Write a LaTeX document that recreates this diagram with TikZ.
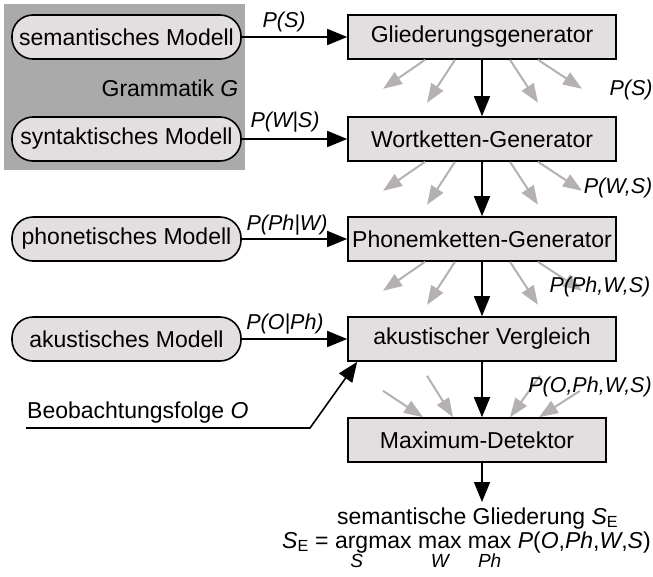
\documentclass[tikz,border=0pt]{standalone}
\usepackage{fontspec}
\setmainfont{Liberation Sans}
\usetikzlibrary{arrows.meta}
\definecolor{gramgray}{HTML}{AAAAAA}
\definecolor{boxfill}{HTML}{E3DEE0}
\definecolor{fangray}{HTML}{B4B0B4}

\begin{document}
\begin{tikzpicture}[x=1pt,y=-1pt,
  every node/.style={font=\fontsize{23}{27}\selectfont, inner sep=0pt},
  stage/.style={draw=black, line width=1.6pt, fill=boxfill, minimum height=44pt, minimum width=268pt},
  model/.style={draw=black, line width=1.6pt, fill=boxfill, rounded corners=21pt, minimum height=44pt, minimum width=229pt},
  flow/.style={line width=1.6pt, -{Triangle[length=20pt,width=16pt]}},
  fan/.style={draw=fangray, line width=2pt, -{Triangle[length=19pt,width=14pt]}},
  prob/.style={font=\fontsize{21.5}{26}\selectfont\itshape},
  term/.style={anchor=base west},
  subx/.style={font=\fontsize{19}{22}\selectfont\itshape, anchor=north}
]
\useasboundingbox (0,0) rectangle (653,576);

% grammar area
\fill[gramgray] (4,4) rectangle (245,170);
\node (gram) at (170,88) {Grammatik \textit{G}};

% knowledge sources
\node[model] (sem) at (126.5,37)  {semantisches Modell};
\node[model] (syn) at (126.5,139) {syntaktisches Modell};
\node[model] (pho) at (126.5,239) {phonetisches Modell};
\node[model] (aku) at (126.5,339) {akustisches Modell};

% processing stages
\node[stage] (glied) at (482,37)  {Gliederungsgenerator};
\node[stage] (wort)  at (482,139) {Wortketten-Generator};
\node[stage] (phon)  at (482,239) {Phonemketten-Generator};
\node[stage] (vgl)   at (482,339) {akustischer Vergleich};
\node[stage, minimum width=258pt] (maxdet) at (477,440) {Maximum-Detektor};

% model inputs
\draw[flow] (sem) -- (glied);
\draw[flow] (syn) -- (wort);
\draw[flow] (pho) -- (phon);
\draw[flow] (aku) -- (vgl);
\node[prob] (pS)   at (284,22)  {P(S)};
\node[prob] (pWS)  at (285,122) {P(W|S)};
\node[prob] (pPhW) at (287,225) {P(Ph|W)};
\node[prob] (pOPh) at (285,324) {P(O|Ph)};

% main chain
\draw[flow] (glied) -- (wort);
\draw[flow] (wort) -- (phon);
\draw[flow] (phon) -- (vgl);
\draw[flow] (vgl.south) -- (vgl.south |- maxdet.north);
\coordinate (result) at (482,502);
\draw[flow] (maxdet.south -| result) -- (result);

% hypotheses fanning out
\foreach \b in {glied,wort,phon}{
  \draw[fan] ([xshift=-57pt]\b.south) -- ++(-42,29);
  \draw[fan] ([xshift=-27pt]\b.south) -- ++(-28,43);
  \draw[fan] ([xshift=28pt]\b.south) -- ++(28,43);
  \draw[fan] ([xshift=56pt]\b.south) -- ++(44,29);
}
% hypotheses converging on the detector
\draw[fan] ([shift={(-99,29)}]vgl.south) -- ([xshift=-54pt]maxdet.north);
\draw[fan] ([shift={(-55,14)}]vgl.south) -- ([xshift=-24pt]maxdet.north);
\draw[fan] ([shift={(58,14)}]vgl.south) -- ([xshift=33pt]maxdet.north);
\draw[fan] ([shift={(98,29)}]vgl.south) -- ([xshift=62pt]maxdet.north);

\node[prob] (rS)     at (631,90)  {P(S)};
\node[prob] (rWS)    at (618,188) {P(W,S)};
\node[prob] (rPhWS)  at (600,287) {P(Ph,W,S)};
\node[prob] (rOPhWS) at (590,387) {P(O,Ph,W,S)};

% observation input
\node[term] (obs) at (27,418) {Beobachtungsfolge \textit{O}};
\coordinate (obsA) at (26,428);
\coordinate (obsB) at (310,428);
\draw[flow] (obsA) -- (obsB) -- ([xshift=10pt]vgl.south west);

% result and decision rule
\node[term] (sgl) at (337,524) {semantische Gliederung \textit{S}\textsubscript{E}};
\node[term] (fSE)   at (282,548) {\textit{S}\textsubscript{E}};
\node[term] (fEq)   at ([xshift=6pt]fSE.base east)   {=};
\node[term] (fArg)  at ([xshift=6pt]fEq.base east)   {argmax};
\node[term] (fMaxW) at ([xshift=6pt]fArg.base east)  {max};
\node[term] (fMaxP) at ([xshift=6pt]fMaxW.base east) {max};
\node[term] (fProb) at ([xshift=6pt]fMaxP.base east) {\textit{P}(\textit{O},\textit{Ph},\textit{W},\textit{S})};
\node[subx] (subS)  at ([shift={(22,6)}]fArg.base west) {S};
\node[subx] (subW)  at ([yshift=-6pt]fMaxW.base) {W};
\node[subx] (subPh) at ([yshift=-6pt]fMaxP.base) {Ph};
\end{tikzpicture}
\end{document}
